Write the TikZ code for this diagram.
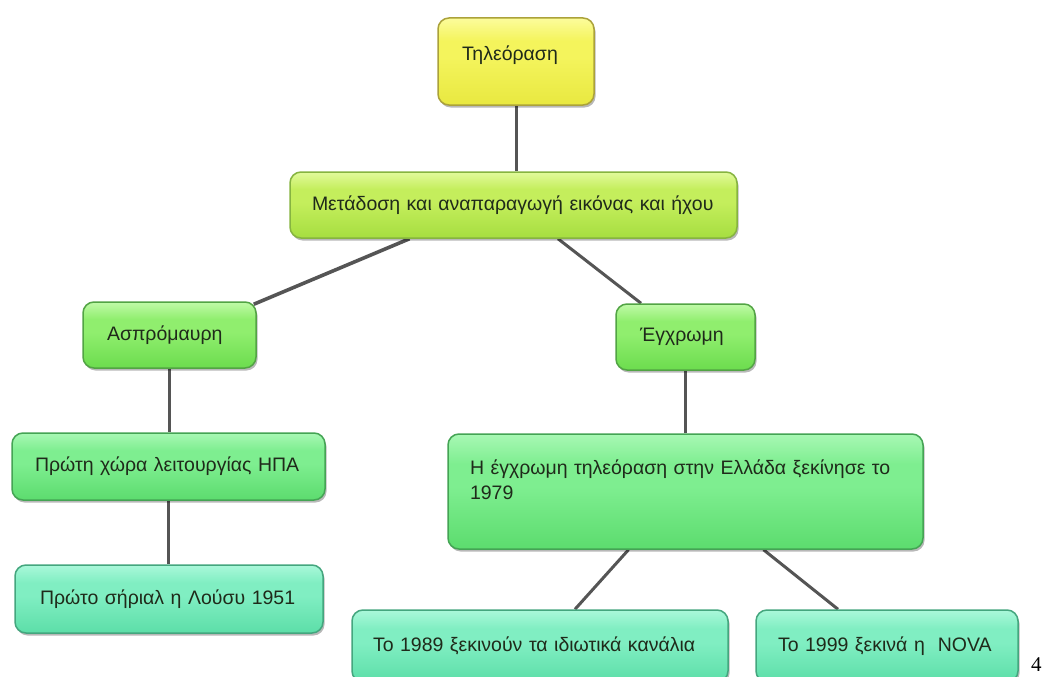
\documentclass[tikz,border=0pt]{standalone}
\usepackage{fontspec}
\setmainfont{Liberation Sans}
\newfontfamily\pagenumfont{Liberation Serif}
\usetikzlibrary{shadows,backgrounds,calc}

\definecolor{txt}{HTML}{1F2A1A}
\definecolor{link}{HTML}{555555}
% yellow
\definecolor{yTop}{HTML}{FCFC9C}\definecolor{yMid}{HTML}{F4F45C}\definecolor{yBot}{HTML}{E8E840}\definecolor{yBrd}{HTML}{ABA23A}
% yellow-green
\definecolor{lTop}{HTML}{E2FA9C}\definecolor{lMid}{HTML}{C4EE5C}\definecolor{lBot}{HTML}{A6DE40}\definecolor{lBrd}{HTML}{86B440}
% green
\definecolor{gTop}{HTML}{C0FAA8}\definecolor{gMid}{HTML}{90EE6E}\definecolor{gBot}{HTML}{6CDC4E}\definecolor{gBrd}{HTML}{52A444}
% green 2
\definecolor{hTop}{HTML}{A8F8B4}\definecolor{hMid}{HTML}{7EEE90}\definecolor{hBot}{HTML}{5CDC6E}\definecolor{hBrd}{HTML}{44A454}
% aqua
\definecolor{aTop}{HTML}{AAF8DA}\definecolor{aMid}{HTML}{80EEC2}\definecolor{aBot}{HTML}{5CDEA8}\definecolor{aBrd}{HTML}{44A67E}

\pgfdeclareverticalshading{shY}{100bp}{color(0bp)=(yBot); color(25bp)=(yBot); color(52bp)=(yMid); color(62bp)=(yMid); color(75bp)=(yTop); color(100bp)=(yTop)}
\pgfdeclareverticalshading{shL}{100bp}{color(0bp)=(lBot); color(25bp)=(lBot); color(52bp)=(lMid); color(62bp)=(lMid); color(75bp)=(lTop); color(100bp)=(lTop)}
\pgfdeclareverticalshading{shG}{100bp}{color(0bp)=(gBot); color(25bp)=(gBot); color(52bp)=(gMid); color(62bp)=(gMid); color(75bp)=(gTop); color(100bp)=(gTop)}
\pgfdeclareverticalshading{shH}{100bp}{color(0bp)=(hBot); color(25bp)=(hBot); color(52bp)=(hMid); color(62bp)=(hMid); color(75bp)=(hTop); color(100bp)=(hTop)}
\pgfdeclareverticalshading{shA}{100bp}{color(0bp)=(aBot); color(25bp)=(aBot); color(52bp)=(aMid); color(62bp)=(aMid); color(75bp)=(aTop); color(100bp)=(aTop)}

\tikzset{
  boxbase/.style={draw, line width=1.5pt, rounded corners=11pt, align=left,
    inner ysep=0pt, text=txt, font=\fontsize{19.5}{25}\selectfont,
    drop shadow={shadow xshift=1.5pt, shadow yshift=-2.5pt, opacity=.28, fill=black}},
  yelbox/.style={boxbase, shade, shading=shY, draw=yBrd},
  limebox/.style={boxbase, shade, shading=shL, draw=lBrd},
  grnbox/.style={boxbase, shade, shading=shG, draw=gBrd},
  grntwobox/.style={boxbase, shade, shading=shH, draw=hBrd},
  aquabox/.style={boxbase, shade, shading=shA, draw=aBrd},
  link/.style={draw=link, line width=3pt}
}

\begin{document}
\begin{tikzpicture}[x=1pt,y=-1pt]
\useasboundingbox (0,0) rectangle (1044,677);
\clip (0,0) rectangle (1044,677);

\node[yelbox, minimum width=156pt, minimum height=87pt, inner xsep=24pt, text width=108pt, text depth=16pt] (tel) at (516,61.5) {Τηλεόραση};
\node[limebox, minimum width=447pt, minimum height=66pt, inner xsep=22pt, text width=403pt] (met) at (513.5,205) {Μετάδοση και αναπαραγωγή εικόνας και ήχου};
\node[grnbox, minimum width=173pt, minimum height=66pt, inner xsep=24pt, text width=125pt] (asp) at (169.5,335) {Ασπρόμαυρη};
\node[grnbox, minimum width=139pt, minimum height=66pt, inner xsep=24pt, text width=91pt] (egx) at (685.5,337) {Έγχρωμη};
\node[grntwobox, minimum width=313pt, minimum height=67pt, inner xsep=23pt, text width=267pt] (pr1) at (168.5,466.5) {Πρώτη χώρα λειτουργίας ΗΠΑ};
\node[aquabox, minimum width=308pt, minimum height=68pt, inner xsep=25pt, text width=258pt] (pr2) at (169,599) {Πρώτο σήριαλ η Λούσυ 1951};
\node[grntwobox, minimum width=475pt, minimum height=115pt, inner xsep=22pt, text width=431pt, text depth=48pt] (hegx) at (685.5,491.5) {Η έγχρωμη τηλεόραση στην Ελλάδα ξεκίνησε το\\1979};
\node[aquabox, minimum width=376pt, minimum height=72pt, inner xsep=21pt, text width=334pt] (t89) at (540,646) {Το 1989 ξεκινούν τα ιδιωτικά κανάλια};
\node[aquabox, minimum width=262pt, minimum height=72pt, inner xsep=22pt, text width=218pt] (t99) at (887,646) {Το 1999 ξεκινά η~ NOVA};

\node[anchor=west, inner sep=0pt, font=\pagenumfont\fontsize{21}{21}\selectfont, text=black] (pg) at (1031,665) {4};

\begin{pgfonlayer}{background}
  \fill[white] (0,0) rectangle (1044,677);
  \draw[link] (tel.south) -- (tel.south |- met.north);
  \draw[link, line width=3.6pt] ([xshift=-104pt]met.south) -- ([xshift=-3pt,yshift=-3pt]asp.north east);
  \draw[link] ([xshift=44.5pt]met.south) -- ([xshift=-44.5pt]egx.north);
  \draw[link] (asp.south) -- (asp.south |- pr1.north);
  \draw[link] (pr1.south) -- (pr1.south |- pr2.north);
  \draw[link] (egx.south) -- (hegx.north);
  \draw[link] ([xshift=-57pt]hegx.south) -- ([xshift=35pt]t89.north);
  \draw[link] ([xshift=78pt]hegx.south) -- ([xshift=-49pt]t99.north);
\end{pgfonlayer}
\end{tikzpicture}
\end{document}
